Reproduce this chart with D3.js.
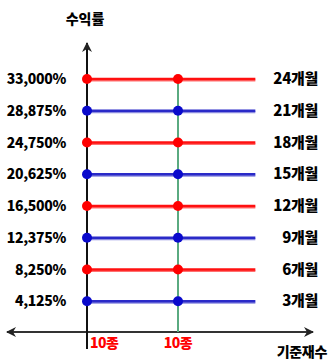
<!DOCTYPE html>
<html><head><meta charset="utf-8">
<script src="https://cdn.jsdelivr.net/npm/d3@7"></script>
<style>
html,body{margin:0;padding:0;background:#fff;}
svg{display:block;}
text{font-family:"Noto Sans CJK KR","DejaVu Sans",sans-serif;font-weight:900;}
</style></head><body>
<script>
const periods = ["24개월","21개월","18개월","15개월","12개월","9개월","6개월","3개월"];
const returns = [33000, 28875, 24750, 20625, 16500, 12375, 8250, 4125];
const returnLabels = ["33,000%","28,875%","24,750%","20,625%","16,500%","12,375%","8,250%","4,125%"];
const seriesColors = ["red","blue","red","blue","red","blue","red","blue"];
const xPoints = [0, 1];
const xLabels = ["10종","10종"];
const lineEnd = 1.85;
const yTitle = "수익률";
const xTitle = "기준재수";

const W = 329, H = 360;
const svg = d3.select("body").append("svg").attr("width", W).attr("height", H);

const x = d3.scaleLinear().domain([0, 1]).range([87, 178]);
const y = d3.scaleLinear().domain([0, 33000]).range([333, 79]);

const colorMap = {red: {line: "#ff1010", band: "#ff7070", dot: "#ff0000"},
                  blue: {line: "#2a2ac8", band: "#8c8ce0", dot: "#0a0acc"}};

const defs = svg.append("defs");
defs.append("marker").attr("id","arr").attr("viewBox","0 0 10 10").attr("refX",9).attr("refY",5)
  .attr("markerWidth",5).attr("markerHeight",5).attr("orient","auto-start-reverse")
  .append("path").attr("d","M0,0 L10,5 L0,10 L3,5 Z").attr("fill","#222");

// x axis
svg.append("line").attr("x1", 7).attr("x2", 313).attr("y1", y(0)-1).attr("y2", y(0)-1)
  .attr("stroke","#333").attr("stroke-width",2)
  .attr("marker-start","url(#arr)").attr("marker-end","url(#arr)");

// green vertical
svg.append("line").attr("x1", x(1)).attr("x2", x(1)).attr("y1", y(returns[0])).attr("y2", y(0)-1)
  .attr("stroke","#5aaa80").attr("stroke-width",2);

// y axis
svg.append("line").attr("x1", x(0)).attr("x2", x(0)).attr("y1", 349).attr("y2", 43)
  .attr("stroke","#111").attr("stroke-width",2).attr("marker-end","url(#arr)");

returns.forEach((v, i) => {
  const c = colorMap[seriesColors[i]];
  const yy = y(v);
  svg.append("line").attr("x1", x(0)).attr("x2", x(lineEnd)).attr("y1", yy+1.5).attr("y2", yy+1.5)
    .attr("stroke", c.band).attr("stroke-width", 2);
  svg.append("line").attr("x1", x(0)).attr("x2", x(lineEnd)).attr("y1", yy).attr("y2", yy)
    .attr("stroke", c.line).attr("stroke-width", 2.5);
  xPoints.forEach(p => {
    svg.append("circle").attr("cx", x(p)).attr("cy", yy).attr("r", 5).attr("fill", c.dot);
  });
  svg.append("text").attr("x", 66).attr("y", yy+5).attr("text-anchor","end")
    .attr("font-size", 14).attr("letter-spacing", -0.3).attr("fill","#000").text(returnLabels[i]);
  svg.append("text").attr("x", 318).attr("y", yy+5).attr("text-anchor","end")
    .attr("font-size", 15).attr("letter-spacing", -0.3).attr("fill","#000").text(periods[i]);
});

svg.append("text").attr("x", 90).attr("y", 348).attr("text-anchor","start")
  .attr("font-size", 14).attr("fill","#ff0000").attr("letter-spacing", -0.5).text(xLabels[0]);
svg.append("text").attr("x", x(1)).attr("y", 348).attr("text-anchor","middle")
  .attr("font-size", 14).attr("fill","#ff0000").attr("letter-spacing", -0.5).text(xLabels[1]);

svg.append("text").attr("x", 85).attr("y", 24).attr("text-anchor","middle")
  .attr("font-size", 14).attr("fill","#000").text(yTitle);
svg.append("text").attr("x", 327).attr("y", 357).attr("text-anchor","end")
  .attr("font-size", 14).attr("fill","#000").attr("letter-spacing", -0.3).text(xTitle);
</script>
</body></html>
